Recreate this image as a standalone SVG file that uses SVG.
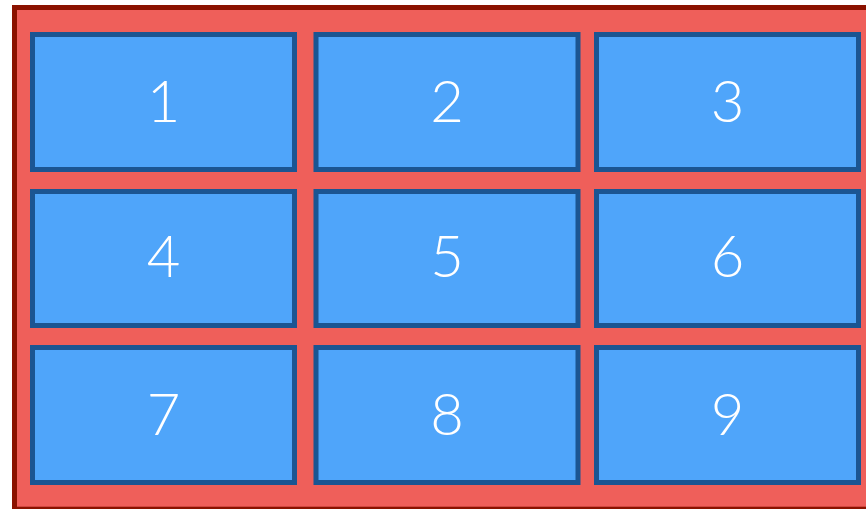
<svg xmlns="http://www.w3.org/2000/svg" width="866" height="509" viewBox="0 0 866 509">
<style>
.cell rect{fill:#4fa5fa;stroke:#1b5592;stroke-width:5}
.cell text{fill:#ffffff;font-family:Lato,"Open Sans","Liberation Sans",sans-serif;font-weight:300;font-size:58px;text-anchor:middle}
</style>
<rect width="866" height="509" fill="#ffffff"/>
<g id="container">
<rect x="14.5" y="7.5" width="900" height="501.7" fill="#ef5f5a" stroke="#8b1200" stroke-width="5"/>
</g>
<g id="cell1" class="cell"><rect x="32.5" y="34.5" width="262" height="135"/><text x="163.5" y="122">1</text></g>
<g id="cell2" class="cell"><rect x="316" y="34.5" width="262" height="135"/><text x="447" y="122">2</text></g>
<g id="cell3" class="cell"><rect x="596.5" y="34.5" width="262" height="135"/><text x="727.5" y="122">3</text></g>
<g id="cell4" class="cell"><rect x="32.5" y="191.5" width="262" height="134"/><text x="163.5" y="277">4</text></g>
<g id="cell5" class="cell"><rect x="316" y="191.5" width="262" height="134"/><text x="447" y="277">5</text></g>
<g id="cell6" class="cell"><rect x="596.5" y="191.5" width="262" height="134"/><text x="727.5" y="277">6</text></g>
<g id="cell7" class="cell"><rect x="32.5" y="347.5" width="262" height="135"/><text x="163.5" y="435">7</text></g>
<g id="cell8" class="cell"><rect x="316" y="347.5" width="262" height="135"/><text x="447" y="435">8</text></g>
<g id="cell9" class="cell"><rect x="596.5" y="347.5" width="262" height="135"/><text x="727.5" y="435">9</text></g>
<g id="connectors"></g>
</svg>
